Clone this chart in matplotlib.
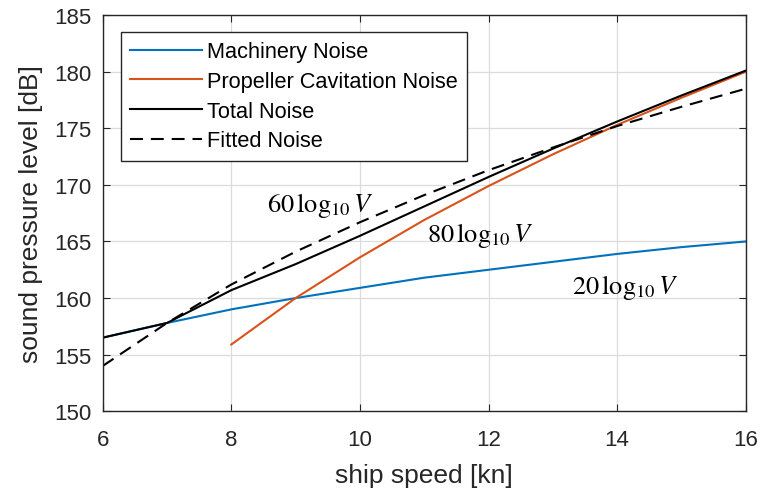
import matplotlib
matplotlib.use('Agg')
import matplotlib.pyplot as plt

# speeds in knots
speed = [6, 7, 8, 9, 10, 11, 12, 13, 14, 15, 16]
speed_prop = [8, 9, 10, 11, 12, 13, 14, 15, 16]

# sound pressure levels [dB]
machinery = [156.5, 157.8, 159.0, 160.0, 160.9, 161.8, 162.5, 163.2, 163.9, 164.5, 165.0]
propeller = [155.9, 160.0, 163.6, 166.9, 169.9, 172.7, 175.3, 177.7, 180.0]
total = [156.5, 157.8, 160.7, 163.0, 165.5, 168.1, 170.7, 173.2, 175.6, 177.9, 180.1]
fitted = [154.0, 157.8, 161.2, 164.1, 166.7, 169.1, 171.3, 173.3, 175.2, 176.9, 178.5]

xticks = [6, 8, 10, 12, 14, 16]
yticks = [150, 155, 160, 165, 170, 175, 180, 185]

plt.rcParams['font.family'] = ['Liberation Sans', 'DejaVu Sans']
plt.rcParams['mathtext.fontset'] = 'stix'

fig = plt.figure(figsize=(7.61, 4.89), dpi=100)
ax = fig.add_axes([0.135, 0.157, 0.845, 0.81])

ax.plot(speed, machinery, color='#0072BD', lw=1.5, label='Machinery Noise')
ax.plot(speed_prop, propeller, color='#D95319', lw=1.5, label='Propeller Cavitation Noise')
ax.plot(speed, total, color='black', lw=1.5, label='Total Noise')
ax.plot(speed, fitted, color='black', lw=1.5, ls=(0, (6.2, 3.8)), label='Fitted Noise')

ax.set_xlim(6, 16)
ax.set_ylim(150, 185)
ax.set_xticks(xticks)
ax.set_yticks(yticks)
ax.grid(True, color='#dcdcdc', lw=0.9)
ax.set_axisbelow(True)
ax.tick_params(direction='in', top=True, right=True, labelsize=16,
               colors='#262626', length=5)
ax.tick_params(axis='x', pad=13)
ax.tick_params(axis='y', pad=8)
for s in ax.spines.values():
    s.set_color('#262626')
    s.set_linewidth(1.0)

ax.set_xlabel('ship speed [kn]', fontsize=19, color='#262626', labelpad=9)
ax.set_ylabel('sound pressure level [dB]', fontsize=19, color='#262626', labelpad=8)

# slope annotations
ax.text(8.55, 168.3, r'$60\,\log_{10}V$', fontsize=19, va='center')
ax.text(11.05, 165.6, r'$80\,\log_{10}V$', fontsize=19, va='center')
ax.text(13.3, 161.0, r'$20\,\log_{10}V$', fontsize=19, va='center')

leg = ax.legend(loc='upper left', bbox_to_anchor=(0.028, 0.957), borderaxespad=0,
                fontsize=15.7, fancybox=False, edgecolor='#262626', framealpha=1,
                handlelength=3.3, handletextpad=0.25, labelspacing=0.4,
                borderpad=0.42)
leg.get_frame().set_linewidth(1.0)

fig.savefig('out.png', dpi=100)
